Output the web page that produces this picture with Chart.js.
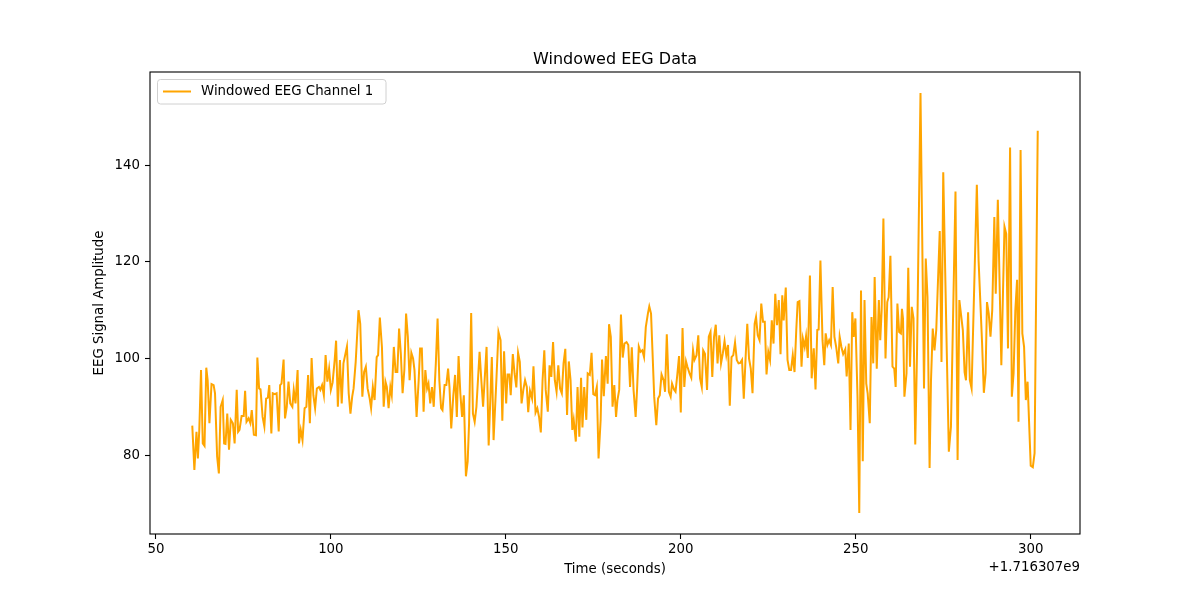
<!DOCTYPE html>
<html><head><meta charset="utf-8">
<script src="https://cdn.jsdelivr.net/npm/chart.js@4.4.1/dist/chart.umd.min.js"></script>
<style>html,body{margin:0;padding:0;background:#fff}#wrap{width:1200px;height:600px}</style>
</head><body><div id="wrap"><canvas id="c" width="1200" height="600"></canvas></div>
<script>
// Time in seconds, shown relative to the axis offset +1.716307e9
const TIME_OFFSET_LABEL = '+1.716307e9';
const times = [
60.4,61.0,61.6,62.0,62.4,62.9,63.4,63.9,64.4,64.8,65.3,65.9,66.5,66.9,67.5,68.0,68.5,69.1,69.5,69.9,
70.4,70.9,71.4,72.0,72.5,73.1,73.5,73.9,74.5,75.1,75.5,75.9,76.5,77.0,77.4,78.0,78.6,79.0,79.5,79.9,
80.5,81.0,81.5,82.0,82.4,83.0,83.4,84.0,84.5,85.1,85.5,85.9,86.5,86.9,87.4,87.9,88.4,89.0,89.4,89.9,
90.5,90.9,91.4,91.9,92.5,93.0,93.5,94.0,94.5,95.0,95.5,96.0,96.6,97.0,97.5,98.0,98.5,99.0,99.5,100.0,
100.5,101.1,101.5,102.0,102.6,103.1,103.6,104.6,105.1,105.6,106.1,106.5,107.1,107.9,108.4,109.0,109.5,110.0,110.5,111.1,
111.5,112.0,112.5,113.1,113.5,114.0,114.6,115.1,115.6,116.0,116.5,117.0,117.4,118.0,118.5,119.0,119.5,
120.0,120.5,121.0,121.5,122.0,122.5,123.0,123.5,123.9,124.5,125.1,125.5,126.0,126.5,127.0,127.5,127.9,128.4,128.9,129.4,
130.0,130.5,131.0,131.5,131.9,132.5,133.0,133.5,133.9,134.4,135.0,135.5,136.0,136.5,137.0,137.5,138.0,138.6,139.1,139.5,
140.1,140.6,141.1,141.6,142.5,
143.0,143.5,144.5,145.1,146.0,146.5,147.3,147.9,148.5,149.0,149.5,150.1,150.5,151.0,151.4,152.0,152.5,153.0,153.5,154.0,
154.5,155.0,155.5,156.0,156.4,156.9,157.5,157.9,158.5,159.0,159.5,160.0,160.5,161.0,161.4,162.0,162.5,163.0,163.5,164.0,
164.5,165.0,165.5,166.0,166.5,167.0,167.5,168.0,168.5,169.0,169.4,170.0,170.5,171.0,171.5,171.9,172.4,173.0,173.4,174.0,
174.5,175.0,175.5,176.0,176.5,177.1,177.5,178.0,178.6,179.1,179.5,180.0,180.5,181.0,181.5,181.9,182.4,182.9,183.4,183.9,
184.5,185.0,185.5,186.0,186.5,187.1,187.5,188.0,188.5,189.0,189.5,190.0,190.6,191.0,191.5,191.9,192.4,193.0,193.5,194.0,
194.5,195.1,195.5,196.0,196.6,197.1,197.5,198.1,198.5,199.0,199.5,200.0,200.5,201.0,201.5,201.9,202.5,203.0,203.5,203.9,
204.5,205.0,205.5,206.0,206.4,206.9,207.5,208.0,208.5,209.0,209.5,210.0,210.5,211.0,211.5,212.0,212.5,213.0,213.5,214.0,
214.5,215.0,215.5,216.0,216.5,217.0,217.5,218.0,218.6,219.0,219.5,220.0,220.5,221.1,221.5,222.0,222.5,223.0,223.5,224.0,
224.5,225.0,225.5,
226.0,226.5,227.0,227.5,228.0,228.5,229.0,229.4,230.0,230.5,231.0,231.5,232.0,232.5,233.0,233.4,233.9,234.5,234.9,235.4,
235.8,236.3,236.9,237.4,238.0,238.5,239.0,239.4,239.9,240.5,241.0,241.4,241.9,242.4,242.9,243.4,243.9,244.4,245.0,245.4,
245.9,246.4,247.0,247.4,248.0,248.5,249.0,249.4,249.9,250.5,251.0,251.5,252.0,252.5,253.0,253.4,254.0,254.5,255.0,255.4,
256.0,256.6,257.0,257.4,257.9,258.5,259.0,259.4,259.9,260.5,261.0,261.4,261.9,262.4,262.9,263.2,263.5,263.9,
264.5,265.0,265.5,266.0,266.5,267.0,267.5,268.5,269.5,270.0,270.5,271.1,271.5,272.0,272.5,273.0,274.0,274.5,275.0,276.0,
276.6,277.2,278.5,279.1,279.6,280.6,281.1,281.5,282.1,282.6,283.1,284.6,285.1,286.1,286.6,287.1,287.5,288.0,288.5,289.0,
289.6,290.0,290.6,291.6,292.5,293.0,293.5,294.1,294.6,295.1,295.6,296.1,296.5,297.1,297.6,298.1,298.6,299.1,300.0,300.6,
301.1,302.0
];
const amplitude = [
86.1,76.9,84.8,79.3,85.1,97.6,82.4,81.9,98.1,95.5,86.6,94.7,94.5,92.8,79.7,76.2,90.0,91.4,82.4,82.3,
88.6,81.1,87.3,86.6,82.4,93.5,84.8,85.2,88.1,88.1,93.3,86.9,87.6,86.6,89.3,84.2,84.1,100.2,93.8,93.6,
87.9,85.9,91.7,91.9,94.5,84.5,92.8,92.6,92.8,84.9,94.5,94.8,99.8,87.6,90.0,95.2,90.7,90.0,93.5,90.7,
97.6,82.4,85.2,83.1,89.7,90.0,96.6,86.6,100.1,92.4,89.7,93.8,94.1,93.5,94.5,92.4,100.7,95.2,97.9,93.5,
95.0,99.7,103.7,90.0,99.7,90.7,99.0,102.5,92.8,88.6,92.1,93.8,99.3,110.0,107.2,92.1,97.2,98.3,93.8,91.7,
89.7,94.1,91.4,100.3,100.7,108.5,102.4,90.0,95.2,94.1,89.7,94.1,92.4,102.4,97.2,97.2,106.2,
101.0,92.8,97.6,109.3,104.5,95.5,101.2,100.0,97.6,87.9,95.5,102.1,102.1,89.0,97.6,93.8,94.8,90.7,94.1,90.0,
99.0,108.3,95.5,89.7,89.3,94.5,94.5,97.9,94.1,85.5,92.4,96.6,87.9,100.5,92.8,87.9,92.4,75.6,78.7,86.6,
109.4,88.6,86.9,90.0,101.4,
95.5,90.0,102.4,82.0,100.3,83.1,95.5,105.5,103.8,87.1,101.5,90.7,96.7,96.7,92.4,100.9,96.9,94.0,101.2,99.3,
90.7,93.5,95.5,94.1,88.9,93.3,91.7,98.4,88.8,89.7,87.9,84.7,95.5,101.7,93.5,89.0,98.6,96.2,103.4,95.5,
93.1,98.6,93.8,92.8,99.0,102.0,88.3,99.4,95.5,85.2,87.3,82.8,94.1,83.8,96.0,85.7,94.1,87.3,96.9,96.6,
101.2,92.6,92.4,94.1,79.3,87.3,99.8,92.2,100.5,94.8,107.1,104.5,90.0,94.5,87.9,91.4,93.5,109.1,100.2,103.1,
103.4,102.8,94.1,102.3,93.5,87.9,93.5,102.5,101.4,101.7,100.3,106.5,109.3,110.8,109.3,101.7,92.1,86.2,91.7,92.4,
96.7,95.5,93.1,105.0,93.1,92.1,94.8,93.5,93.1,96.6,100.5,88.8,106.3,94.1,99.4,98.3,96.9,96.0,101.7,99.7,
100.7,104.8,95.9,94.1,101.7,101.0,93.5,104.5,105.5,96.2,104.5,107.0,99.0,104.8,99.0,101.0,103.6,100.7,102.8,90.2,
100.3,100.7,103.3,99.7,99.0,99.1,99.7,91.7,101.4,107.2,100.0,97.9,92.8,107.2,108.6,104.8,103.8,111.4,107.6,107.6,
96.7,101.4,99.7,
107.9,103.1,113.4,106.9,112.1,100.9,113.1,107.9,114.7,99.7,97.6,97.6,100.7,97.2,105.9,111.7,111.9,98.3,104.1,102.4,
104.6,100.1,117.2,95.9,102.1,93.6,105.9,106.0,120.3,103.8,98.6,105.2,102.8,103.8,102.8,114.8,104.5,102.4,99.0,104.5,
102.4,100.9,101.9,96.3,103.1,85.2,109.6,104.5,108.3,92.1,68.0,114.1,78.7,112.1,94.8,92.8,86.6,108.6,99.0,116.9,
97.9,112.1,103.8,110.0,129.0,100.0,111.7,112.7,121.3,98.3,97.9,94.1,111.4,105.5,105.2,110.3,108.3,92.1,
96.9,118.8,98.3,110.7,108.3,82.2,101.0,155.0,93.8,120.7,112.7,77.3,95.5,106.2,101.7,105.9,126.4,99.3,138.6,101.7,
80.7,85.9,134.6,79.0,112.1,105.9,97.2,95.5,109.6,95.5,93.8,136.0,120.3,103.1,92.9,96.9,111.7,109.3,104.5,110.0,
129.3,113.4,132.9,98.6,127.3,125.8,102.1,143.7,92.1,96.9,110.0,116.3,86.9,143.2,105.2,102.4,91.4,95.2,77.8,77.5,
80.4,147.2
];
const xTickValues = [50, 100, 150, 200, 250, 300];
const yTickValues = [80, 100, 120, 140];
const chartTitle = 'Windowed EEG Data';
const seriesLabel = 'Windowed EEG Channel 1';
const xAxisLabel = 'Time (seconds)';
const yAxisLabel = 'EEG Signal Amplitude';
const lineColor = '#FFA500';

const FONT = 'DejaVu Sans';
function span(arr){ const mn=Math.min(...arr), mx=Math.max(...arr), m=(mx-mn)*0.05; return [mn-m, mx+m]; }
const [xMin, xMax] = span(times);
const [yMin, yMax] = span(amplitude);
const points = times.map((t,i)=>({x:t, y:amplitude[i]}));

const decor = {
  id:'decor',
  afterDraw(chart){
    const ctx = chart.ctx, a = chart.chartArea;
    ctx.save();
    // frame
    ctx.strokeStyle = '#000'; ctx.lineWidth = 1.1;
    ctx.strokeRect(a.left, a.top, a.right-a.left, a.bottom-a.top);
    // title
    ctx.fillStyle = '#000';
    ctx.font = '16px "' + FONT + '"';
    ctx.textAlign = 'center'; ctx.textBaseline = 'alphabetic';
    ctx.fillText(chartTitle, (a.left+a.right)/2, a.top - 8);
    // axis labels
    ctx.font = '13.33px "' + FONT + '"';
    ctx.textBaseline = 'middle';
    ctx.fillText(xAxisLabel, (a.left+a.right)/2, 570);
    ctx.textAlign = 'right';
    ctx.fillText(TIME_OFFSET_LABEL, a.right, 568);
    ctx.save();
    ctx.translate(100, (a.top+a.bottom)/2);
    ctx.rotate(-Math.PI/2);
    ctx.textAlign = 'center';
    ctx.fillText(yAxisLabel, 0, 0);
    ctx.restore();
    // legend
    const lx = a.left + 7.5, ly = a.top + 7.5, lw = 228.5, lh = 24.5, r = 3;
    ctx.beginPath();
    ctx.moveTo(lx+r, ly); ctx.lineTo(lx+lw-r, ly); ctx.arcTo(lx+lw, ly, lx+lw, ly+r, r);
    ctx.lineTo(lx+lw, ly+lh-r); ctx.arcTo(lx+lw, ly+lh, lx+lw-r, ly+lh, r);
    ctx.lineTo(lx+r, ly+lh); ctx.arcTo(lx, ly+lh, lx, ly+lh-r, r);
    ctx.lineTo(lx, ly+r); ctx.arcTo(lx, ly, lx+r, ly, r); ctx.closePath();
    ctx.fillStyle = 'rgba(255,255,255,0.8)'; ctx.fill();
    ctx.strokeStyle = '#d0d0d0'; ctx.lineWidth = 1; ctx.stroke();
    ctx.strokeStyle = lineColor; ctx.lineWidth = 2;
    ctx.beginPath(); ctx.moveTo(lx+5.5, ly+12); ctx.lineTo(lx+33.5, ly+12); ctx.stroke();
    ctx.fillStyle = '#000'; ctx.textAlign = 'left'; ctx.textBaseline = 'middle';
    ctx.fillText(seriesLabel, lx+43.5, ly+12.5);
    ctx.restore();
  }
};

const tickFont = {family: FONT, size: 13.33};
const gridOpts = {display:true, drawOnChartArea:false, drawTicks:true, tickLength:5, tickWidth:1.1, tickColor:'#000', color:'#000'};

new Chart(document.getElementById('c'), {
  type:'line',
  data:{ datasets:[{ label: seriesLabel, data: points, borderColor: lineColor, backgroundColor: lineColor,
    borderWidth: 2, pointRadius: 0, tension: 0, fill:false }] },
  options:{
    responsive:false, animation:false, devicePixelRatio:1,
    layout:{ padding:{ left:0, right:120, top:72, bottom:0 } },
    plugins:{ legend:{display:false}, title:{display:false}, tooltip:{enabled:false} },
    scales:{
      x:{ type:'linear', min:xMin, max:xMax,
        afterBuildTicks: s => { s.ticks = xTickValues.map(v=>({value:v})); },
        afterFit: s => { s.height = 66; },
        grid: gridOpts, border:{display:false},
        ticks:{ color:'#000', font:tickFont, padding:3, maxRotation:0, autoSkip:false, callback: v => String(v) } },
      y:{ type:'linear', min:yMin, max:yMax,
        afterBuildTicks: s => { s.ticks = yTickValues.map(v=>({value:v})); },
        afterFit: s => { s.width = 150; },
        grid: gridOpts, border:{display:false},
        ticks:{ color:'#000', font:tickFont, padding:5, autoSkip:false, callback: v => String(v) } }
    }
  },
  plugins:[decor]
});
</script></body></html>
